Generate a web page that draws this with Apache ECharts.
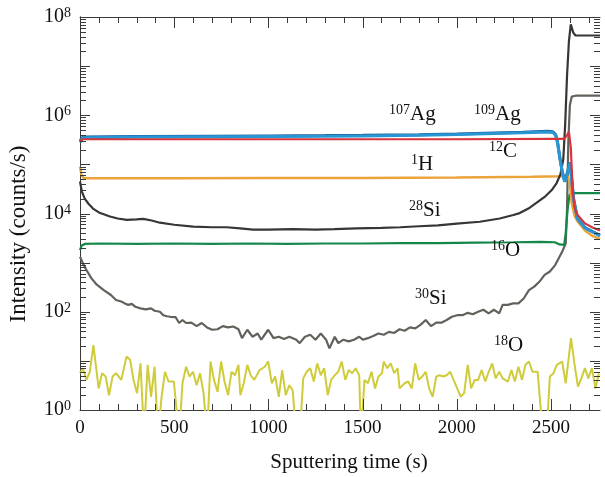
<!DOCTYPE html>
<html>
<head>
<meta charset="utf-8">
<script src="https://cdn.jsdelivr.net/npm/echarts@6/dist/echarts.min.js"></script>
<style>
  html, body { margin: 0; padding: 0; background: #fff; }
  #main { width: 605px; height: 477px; }
</style>
</head>
<body>
<div id="main"></div>
<script>
// 强度随溅射时间变化 (counts/s)
var ag107 = [[0,3.0e5],[15,3.6e5],[300,3.7e5],[700,3.75e5],[1000,3.8e5],[1300,3.85e5],[1500,3.9e5],[1800,4.0e5],[2000,4.15e5],[2200,4.35e5],[2350,4.5e5],[2480,4.7e5],[2510,4.6e5],[2525,4.0e5],[2535,2.8e5],[2548,1.3e5],[2560,7e4],[2573,4.5e4],[2588,7e4],[2600,1.1e5],[2610,5e4],[2620,2e4],[2640,8000],[2680,5200],[2720,4300],[2760,3600]];
var ag109 = [[0,2.8e5],[15,3.5e5],[300,3.6e5],[700,3.65e5],[1000,3.7e5],[1300,3.75e5],[1500,3.8e5],[1800,3.9e5],[2000,4.05e5],[2200,4.25e5],[2350,4.4e5],[2480,4.55e5],[2510,4.45e5],[2525,3.9e5],[2535,2.7e5],[2548,1.25e5],[2560,6.8e4],[2573,4.4e4],[2588,6.8e4],[2600,1.08e5],[2610,4.8e4],[2620,1.9e4],[2640,7800],[2680,5100],[2720,4200],[2760,3500]];
var c12 = [[0,3.0e5],[15,3.25e5],[500,3.25e5],[1000,3.25e5],[1500,3.25e5],[2000,3.25e5],[2500,3.3e5],[2570,3.3e5],[2585,3.9e5],[2595,4.6e5],[2605,2.2e5],[2615,3e4],[2625,1.3e4],[2640,9500],[2680,6300],[2720,5200],[2760,4500]];
var h1 = [[0,9e4],[8,6e4],[20,5.2e4],[500,5.2e4],[1000,5.25e4],[1500,5.3e4],[2000,5.4e4],[2400,5.6e4],[2560,5.7e4],[2590,5.8e4],[2600,4e4],[2610,1.6e4],[2625,9000],[2640,7000],[2680,4500],[2720,3500],[2760,3000]];
var si28 = [[0,44700],[10,28000],[25,20000],[45,15800],[69,12600],[100,10500],[159,8700],[200,7900],[248,7400],[300,7600],[336,7800],[380,7200],[424,6500],[500,5900],[601,5400],[700,5250],[778,5250],[850,5000],[919,4700],[1000,4700],[1131,4800],[1250,4700],[1350,4800],[1468,5000],[1600,5100],[1700,5250],[1800,5500],[1900,5750],[2000,6200],[2122,6800],[2228,7900],[2300,9300],[2334,10200],[2380,12600],[2424,16600],[2470,22400],[2504,30000],[2530,41700],[2550,63000],[2565,1.26e5],[2575,6.3e5],[2585,6.3e6],[2595,3.2e7],[2605,7.1e7],[2618,4.8e7],[2630,4.2e7],[2760,4.2e7]];
var o16 = [[0,1800],[8,2200],[25,2400],[100,2450],[300,2400],[500,2450],[700,2400],[900,2450],[1100,2400],[1300,2450],[1500,2450],[1700,2500],[1900,2500],[2100,2550],[2300,2600],[2450,2650],[2520,2600],[2545,2350],[2570,2300],[2578,4000],[2588,12000],[2598,24000],[2610,26000],[2760,26000]];
var si30 = [[0,1318],[15,977],[34,708],[61,479],[89,355],[126,275],[164,219],[191,174],[219,162],[238,148],[256,138],[275,145],[294,126],[321,117],[349,112],[377,117],[396,105],[424,100],[442,85],[461,81],[479,79],[507,78],[526,59],[544,68],[563,59],[591,60],[619,51],[646,59],[674,48],[702,43],[730,44],[758,51],[786,48],[814,50],[841,44],[860,29],[888,43],[916,31],[943,36],[962,27],[999,43],[1027,29],[1055,31],[1083,28],[1111,31],[1148,27],[1166,23],[1194,31],[1222,34],[1250,27],[1278,36],[1306,27],[1324,18],[1352,31],[1371,23],[1398,27],[1426,25],[1454,27],[1482,31],[1501,27],[1528,29],[1556,32],[1584,36],[1612,34],[1640,39],[1668,37],[1696,44],[1723,41],[1751,48],[1779,46],[1807,54],[1835,68],[1863,51],[1891,60],[1918,60],[1946,68],[1974,79],[2002,85],[2030,85],[2058,95],[2085,89],[2113,100],[2141,110],[2169,93],[2197,110],[2225,93],[2243,138],[2271,138],[2299,148],[2327,148],[2355,186],[2383,275],[2411,324],[2438,407],[2466,562],[2494,661],[2522,891],[2541,1230],[2559,1660],[2578,2455],[2585,1.2e4],[2592,3e5],[2600,1.6e6],[2610,2.4e6],[2630,2.5e6],[2760,2.5e6]];
var o18 = [[0,5.6],[15,7.1],[34,4.1],[52,6.0],[71,21],[99,2.75],[117,5.6],[136,4.8],[154,2.0],[173,4.8],[191,5.6],[219,4.1],[247,12.3],[266,10.5],[284,4.1],[303,2.2],[321,8.9],[340,0.3],[359,8.3],[377,1.86],[396,7.6],[414,0.3],[433,1.86],[451,6.0],[470,3.8],[498,3.8],[526,0.3],[544,3.5],[563,7.6],[581,4.8],[600,6.0],[619,3.2],[637,5.6],[656,2.2],[674,0.3],[693,9.7],[711,4.1],[730,2.35],[749,9.7],[767,3.8],[786,2.0],[804,6.0],[823,5.1],[841,8.3],[851,2.0],[869,3.5],[888,8.3],[906,5.1],[925,4.1],[953,6.5],[981,7.6],[999,9.7],[1018,3.5],[1036,4.8],[1055,1.86],[1073,6.5],[1092,2.0],[1111,3.2],[1129,2.5],[1148,0.3],[1166,0.3],[1185,4.4],[1203,6.0],[1222,7.1],[1241,3.8],[1259,8.9],[1278,5.1],[1296,7.1],[1315,2.0],[1333,4.1],[1352,5.1],[1371,6.0],[1389,9.7],[1408,4.1],[1426,6.5],[1445,5.6],[1463,7.1],[1482,5.1],[1491,0.3],[1510,4.1],[1528,3.5],[1547,6.0],[1566,2.75],[1584,4.8],[1603,5.6],[1612,9.7],[1631,7.1],[1649,8.9],[1668,5.6],[1686,7.1],[1696,2.75],[1723,3.5],[1742,3.8],[1761,2.75],[1779,8.9],[1798,4.1],[1816,4.8],[1835,6.0],[1853,2.75],[1872,1.86],[1891,4.8],[1909,5.1],[1928,4.8],[1946,5.1],[1965,6.0],[1983,4.1],[2002,2.75],[2021,1.86],[2039,2.2],[2058,8.3],[2076,2.75],[2095,4.1],[2113,4.1],[2132,6.5],[2151,3.8],[2169,6.0],[2188,8.9],[2206,4.4],[2225,6.0],[2243,4.4],[2271,3.8],[2290,6.5],[2308,3.8],[2327,7.6],[2346,4.1],[2364,8.3],[2383,9.7],[2401,6.0],[2429,6.0],[2457,0.3],[2476,0.3],[2494,4.8],[2513,5.6],[2531,8.3],[2559,9.7],[2578,3.5],[2606,29],[2624,8.9],[2643,3.0],[2661,4.4],[2680,7.1],[2698,4.4],[2717,7.1],[2736,2.75],[2754,5.6]];

var xTicks = [0, 500, 1000, 1500, 2000, 2500];
var yLabelExp = [0, 2, 4, 6, 8];

var serif = 'Liberation Serif';
var axisColor = '#3a3a3a';
var xMax = 2760;

function lineSeries(name, data, color, width) {
    return {
        name: name,
        type: 'line',
        data: data,
        showSymbol: false,
        clip: true,
        lineStyle: { color: color, width: width },
        itemStyle: { color: color }
    };
}

function label(text, left, top) {
    return {
        type: 'text',
        left: left,
        top: top,
        z: 50,
        style: {
            text: text,
            rich: {
                s: { fontFamily: serif, fontSize: 14, fill: '#111', verticalAlign: 'top', lineHeight: 13 },
                b: { fontFamily: serif, fontSize: 21, fill: '#111', lineHeight: 23 }
            }
        }
    };
}

var labels = [
    label('{s|107}{b|Ag}', 389, 103),
    label('{s|109}{b|Ag}', 474, 103),
    label('{s|12}{b|C}', 489, 140),
    label('{s|1}{b|H}', 411, 153),
    label('{s|28}{b|Si}', 409, 199),
    label('{s|16}{b|O}', 491, 239),
    label('{s|30}{b|Si}', 415, 287),
    label('{s|18}{b|O}', 494, 334),
    {
        type: 'text',
        x: 19,
        y: 234,
        rotation: Math.PI / 2,
        z: 50,
        style: {
            text: 'Intensity (counts/s)',
            fontFamily: serif,
            fontSize: 23,
            fill: '#111',
            align: 'center',
            verticalAlign: 'middle'
        }
    },
    {
        type: 'text',
        x: 349,
        y: 462,
        z: 50,
        style: {
            text: 'Sputtering time (s)',
            fontFamily: serif,
            fontSize: 21,
            fill: '#111',
            align: 'center',
            verticalAlign: 'middle'
        }
    }
];

var xAxisBase = {
    type: 'value',
    min: 0,
    max: xMax,
    interval: 500,
    axisLine: { show: true, lineStyle: { color: axisColor, width: 1 } },
    axisTick: { show: false },
    splitLine: { show: false }
};

var yAxisBase = {
    type: 'log',
    logBase: 10,
    min: 1,
    max: 1e8,
    interval: 1,
    axisLine: { show: true, lineStyle: { color: axisColor, width: 1 } },
    axisTick: { show: false },
    splitLine: { show: false }
};

var chart = echarts.init(document.getElementById('main'));

var option = {
    animation: false,
    backgroundColor: '#fff',
    grid: { left: 80, right: 5, top: 17, bottom: 67 },
    xAxis: [
        echarts.util.merge({
            position: 'bottom',
            axisLabel: {
                margin: 9,
                fontFamily: serif,
                fontSize: 19,
                color: '#111',
                formatter: function (v) {
                    return xTicks.indexOf(v) >= 0 ? String(v) : '';
                }
            }
        }, echarts.util.clone(xAxisBase), true),
        echarts.util.merge({
            position: 'top',
            axisLabel: { show: false }
        }, echarts.util.clone(xAxisBase), true)
    ],
    yAxis: [
        echarts.util.merge({
            position: 'left',
            axisLabel: {
                margin: 9,
                formatter: function (v) {
                    var ex = Math.round(Math.log(v) / Math.LN10);
                    if (yLabelExp.indexOf(ex) < 0) return '';
                    return '{b|10}{s|' + ex + '}';
                },
                rich: {
                    b: { fontFamily: serif, fontSize: 20, color: '#111', lineHeight: 21 },
                    s: { fontFamily: serif, fontSize: 14, color: '#111', verticalAlign: 'top', lineHeight: 12 }
                }
            }
        }, echarts.util.clone(yAxisBase), true),
        echarts.util.merge({
            position: 'right',
            axisLabel: { show: false }
        }, echarts.util.clone(yAxisBase), true)
    ],
    series: [
        lineSeries('18O', o18, '#cfcc3c', 2),
        lineSeries('30Si', si30, '#62625c', 2.2),
        lineSeries('16O', o16, '#14874b', 2.2),
        lineSeries('1H', h1, '#eca33a', 2.5),
        lineSeries('28Si', si28, '#363634', 2.2),
        lineSeries('107Ag', ag107, '#1f5e9e', 3),
        lineSeries('109Ag', ag109, '#2796d3', 3),
        lineSeries('12C', c12, '#d8343c', 2.2)
    ],
    graphic: labels
};

chart.setOption(option);

// 刻度线：朝内，四边都有（用坐标轴换算位置）
function tickLine(x1, y1, x2, y2) {
    return {
        type: 'line',
        z: 40,
        silent: true,
        shape: { x1: x1, y1: y1, x2: x2, y2: y2 },
        style: { stroke: axisColor, lineWidth: 1 }
    };
}

function addTicks() {
    var p0 = chart.convertToPixel({ xAxisIndex: 0, yAxisIndex: 0 }, [0, 1]);
    var p1 = chart.convertToPixel({ xAxisIndex: 0, yAxisIndex: 0 }, [xMax, 1e8]);
    var left = p0[0], bottom = p0[1], right = p1[0], top = p1[1];
    var ticks = [];
    for (var t = 100; t < xMax; t += 100) {
        var x = Math.round(chart.convertToPixel({ xAxisIndex: 0 }, t)) + 0.5;
        var len = (t % 500 === 0) ? 11 : 6;
        ticks.push(tickLine(x, bottom, x, bottom - len));
        ticks.push(tickLine(x, top, x, top + len));
    }
    for (var e = 0; e < 8; e++) {
        for (var k = 1; k <= 9; k++) {
            if (e === 0 && k === 1) continue;
            var v = k * Math.pow(10, e);
            var y = Math.round(chart.convertToPixel({ yAxisIndex: 0 }, v)) + 0.5;
            var l = (k === 1) ? 10 : 6;
            ticks.push(tickLine(left, y, left + l, y));
            ticks.push(tickLine(right, y, right - l, y));
        }
    }
    chart.setOption({ graphic: labels.concat(ticks) });
}
addTicks();

window.onresize = function () {
    chart.resize();
    addTicks();
};
</script>
</body>
</html>
